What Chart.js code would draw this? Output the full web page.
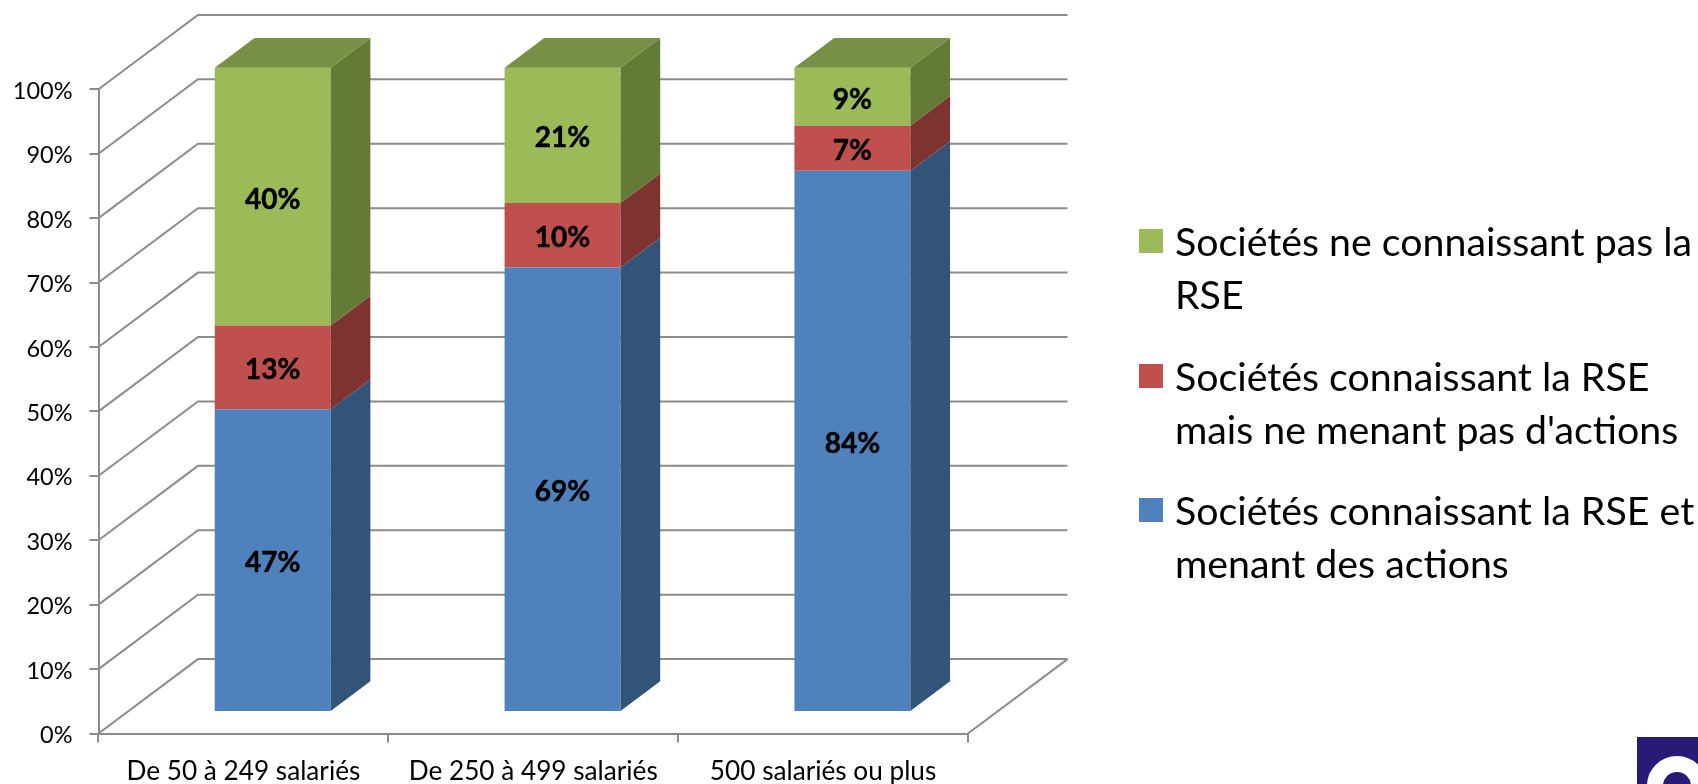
<!DOCTYPE html>
<html>
<head>
<meta charset="utf-8">
<title>RSE</title>
<script src="https://cdn.jsdelivr.net/npm/chart.js@4"></script>
<style>
html, body { margin: 0; padding: 0; background: #fff; overflow: hidden; }
#wrap { position: relative; width: 1698px; height: 784px; }
#legend { position: absolute; left: 1139px; top: 214px; width: 559px; font: 39.3px/53px Lato; color: #000; white-space: nowrap; }
#legend .item { position: relative; padding-left: 36px; margin-bottom: 28.5px; }
#legend .box { position: absolute; left: 0; top: 15px; width: 24px; height: 24px; }
#logo { position: absolute; left: 1637px; top: 737px; width: 61px; height: 47px; background: #2a1a78; overflow: hidden; }
#logo i { position: absolute; left: 10px; top: 19px; width: 60px; height: 60px; border-radius: 50%; border: 16px solid #fff; box-sizing: border-box; }
</style>
</head>
<body>
<div id="wrap">
<canvas id="chart" width="1698" height="784"></canvas>
<div id="legend"></div>
<div id="logo"><i></i></div>
</div>
<script>
// Data
const categories = ['De 50 à 249 salariés', 'De 250 à 499 salariés', '500 salariés ou plus'];
const actions = [47, 69, 84];
const noActions = [13, 10, 7];
const unknown = [40, 21, 9];
const seriesLabels = [
    ['Sociétés connaissant la RSE et', 'menant des actions'],
    ['Sociétés connaissant la RSE', "mais ne menant pas d'actions"],
    ['Sociétés ne connaissant pas la', 'RSE']
];
const yTicks = [0, 10, 20, 30, 40, 50, 60, 70, 80, 90, 100];

const frontColors = ['#4f81bd', '#c0504d', '#9bbb59'];
const sideColors = ['#325479', '#7d3330', '#647a37'];
const topColor = '#779045';
const gridColor = '#8c8c8c';

// Depth of the box, and how far back the bars stand in it
const DEPTH_X = 99.5, DEPTH_Y = 74.4;
const BAR_X = 29.3, BAR_Y = 21.5;
const BAR_DX = 39.7, BAR_DY = 29.7;

function line(ctx, x1, y1, x2, y2, x3, y3) {
    ctx.beginPath();
    ctx.moveTo(x1, y1);
    ctx.lineTo(x2, y2);
    if (x3 !== undefined) ctx.lineTo(x3, y3);
    ctx.stroke();
}

function poly(ctx, pts, color) {
    ctx.fillStyle = color;
    ctx.beginPath();
    pts.forEach((p, i) => i ? ctx.lineTo(p[0], p[1]) : ctx.moveTo(p[0], p[1]));
    ctx.closePath();
    ctx.fill();
}

// Fake 3D: walls, floor, bar sides and value labels
const box3d = {
    id: 'box3d',
    beforeDatasetsDraw(chart) {
        const { ctx, scales: { x, y } } = chart;
        const right = x.right;
        ctx.save();
        ctx.strokeStyle = gridColor;
        ctx.lineWidth = 2;
        yTicks.forEach(v => {
            const py = y.getPixelForValue(v);
            line(ctx, x.left, py, x.left + DEPTH_X, py - DEPTH_Y, right + DEPTH_X, py - DEPTH_Y);
        });
        const py0 = y.getPixelForValue(0);
        line(ctx, right, py0, right + DEPTH_X, py0 - DEPTH_Y);
        ctx.restore();
        // bars stand inside the box, so shift them back from the front plane
        ctx.save();
        ctx.translate(BAR_X, -BAR_Y);
    },
    afterDatasetsDraw(chart) {
        const ctx = chart.ctx;
        const metas = chart.data.datasets.map((d, i) => chart.getDatasetMeta(i));
        metas.forEach((meta, i) => {
            meta.data.forEach(bar => {
                const p = bar.getProps(['x', 'y', 'base', 'width'], true);
                const r = p.x + p.width / 2;
                poly(ctx, [[r, p.y], [r + BAR_DX, p.y - BAR_DY], [r + BAR_DX, p.base - BAR_DY], [r, p.base]], sideColors[i]);
                if (i === metas.length - 1) {
                    const l = p.x - p.width / 2;
                    poly(ctx, [[l, p.y], [l + BAR_DX, p.y - BAR_DY], [r + BAR_DX, p.y - BAR_DY], [r, p.y]], topColor);
                }
            });
        });
        ctx.fillStyle = '#000';
        ctx.strokeStyle = '#000';
        ctx.lineWidth = 0.5;
        ctx.font = 'bold 28px Lato';
        ctx.textAlign = 'center';
        ctx.textBaseline = 'middle';
        metas.forEach((meta, i) => {
            meta.data.forEach((bar, j) => {
                const p = bar.getProps(['x', 'y', 'base'], true);
                const label = chart.data.datasets[i].data[j] + '%';
                ctx.fillText(label, p.x, (p.y + p.base) / 2 + 3);
                ctx.strokeText(label, p.x, (p.y + p.base) / 2 + 3);
            });
        });
        ctx.restore();
    }
};

const chart = new Chart(document.getElementById('chart').getContext('2d'), {
    type: 'bar',
    plugins: [box3d],
    data: {
        labels: categories,
        datasets: [actions, noActions, unknown].map((values, i) => ({
            label: seriesLabels[i].join(' '),
            data: values,
            backgroundColor: frontColors[i],
            stack: 'all',
            clip: false,
            barPercentage: 0.4,
            categoryPercentage: 1
        }))
    },
    options: {
        responsive: false,
        animation: false,
        layout: { padding: { left: 0, top: 89.3, right: 730, bottom: 0 } },
        plugins: {
            tooltip: { enabled: false },
            legend: { display: false }
        },
        scales: {
            x: {
                stacked: true,
                grid: { drawOnChartArea: false, color: gridColor, lineWidth: 2, tickLength: 9 },
                border: { color: gridColor, width: 2 },
                ticks: { color: '#000', font: { family: 'Lato', size: 26.2 }, padding: 13, maxRotation: 0 },
                afterFit(scale) { scale.height = 50.5; }
            },
            y: {
                stacked: true,
                min: 0,
                max: 100,
                grid: { drawOnChartArea: false, color: gridColor, lineWidth: 2, tickLength: 9 },
                border: { color: gridColor, width: 2 },
                afterBuildTicks(scale) { scale.ticks = yTicks.map(v => ({ value: v })); },
                ticks: { color: '#000', font: { family: 'Lato', size: 23.5 }, padding: 17, labelOffset: 2, callback: v => v + '%' },
                afterFit(scale) { scale.width = 98.5; }
            }
        }
    }
});

// Legend, top series first
const legendEl = document.getElementById('legend');
[2, 1, 0].forEach(i => {
    const item = document.createElement('div');
    item.className = 'item';
    const box = document.createElement('span');
    box.className = 'box';
    box.style.background = chart.data.datasets[i].backgroundColor;
    item.appendChild(box);
    seriesLabels[i].forEach(text => {
        const row = document.createElement('div');
        row.textContent = text;
        item.appendChild(row);
    });
    legendEl.appendChild(item);
});
</script>
</body>
</html>
